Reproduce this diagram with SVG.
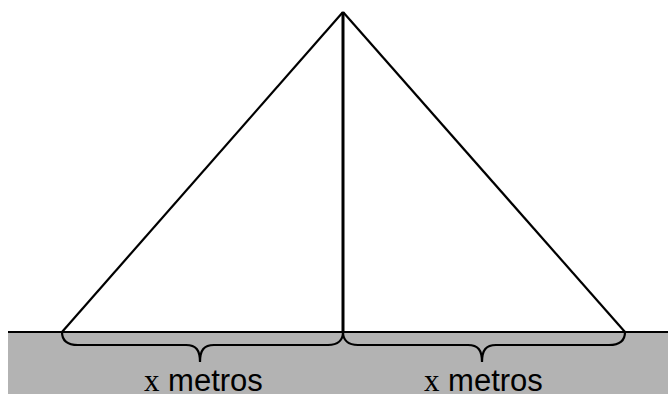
<svg xmlns="http://www.w3.org/2000/svg" width="668" height="394" viewBox="0 0 668 394">
<style>
.ln{fill:none;stroke:#000;stroke-width:2.2;stroke-linejoin:miter}
.br{fill:none;stroke:#000;stroke-width:2.2}
.lbl{font-family:"Liberation Sans",Arial,sans-serif;font-size:31px;fill:#000}
.var{font-family:"Liberation Serif","Times New Roman",serif}
</style>
<rect width="668" height="394" fill="#fff"/>
<g id="ground">
<rect x="8" y="332" width="660" height="62" fill="#b3b3b3"/>
<line x1="8" y1="332" x2="668" y2="332" class="ln"/>
</g>
<g id="connectors">
<polyline id="left-side" class="ln" points="62,332 343,12"/>
<polyline id="right-side" class="ln" points="343,12 625,332"/>
<line id="height" x1="343" y1="12" x2="343" y2="332" stroke="#000" stroke-width="3"/>
</g>
<g id="brace-left">
<path class="br" d="M62,332 C62,340 67,345 78,345 L186,345 C196,345 200,350 200,362 C200,350 204,345 214,345 L328,345 C338,345 343,340 343,332"/>
<text class="lbl" x="144" y="391"><tspan class="var">x</tspan> metros</text>
</g>
<g id="brace-right">
<path class="br" d="M343,332 C343,340 348,345 358,345 L468,345 C478,345 482,350 482,362 C482,350 486,345 496,345 L609,345 C620,345 625,340 625,332"/>
<text class="lbl" x="424" y="391"><tspan class="var">x</tspan> metros</text>
</g>
</svg>
